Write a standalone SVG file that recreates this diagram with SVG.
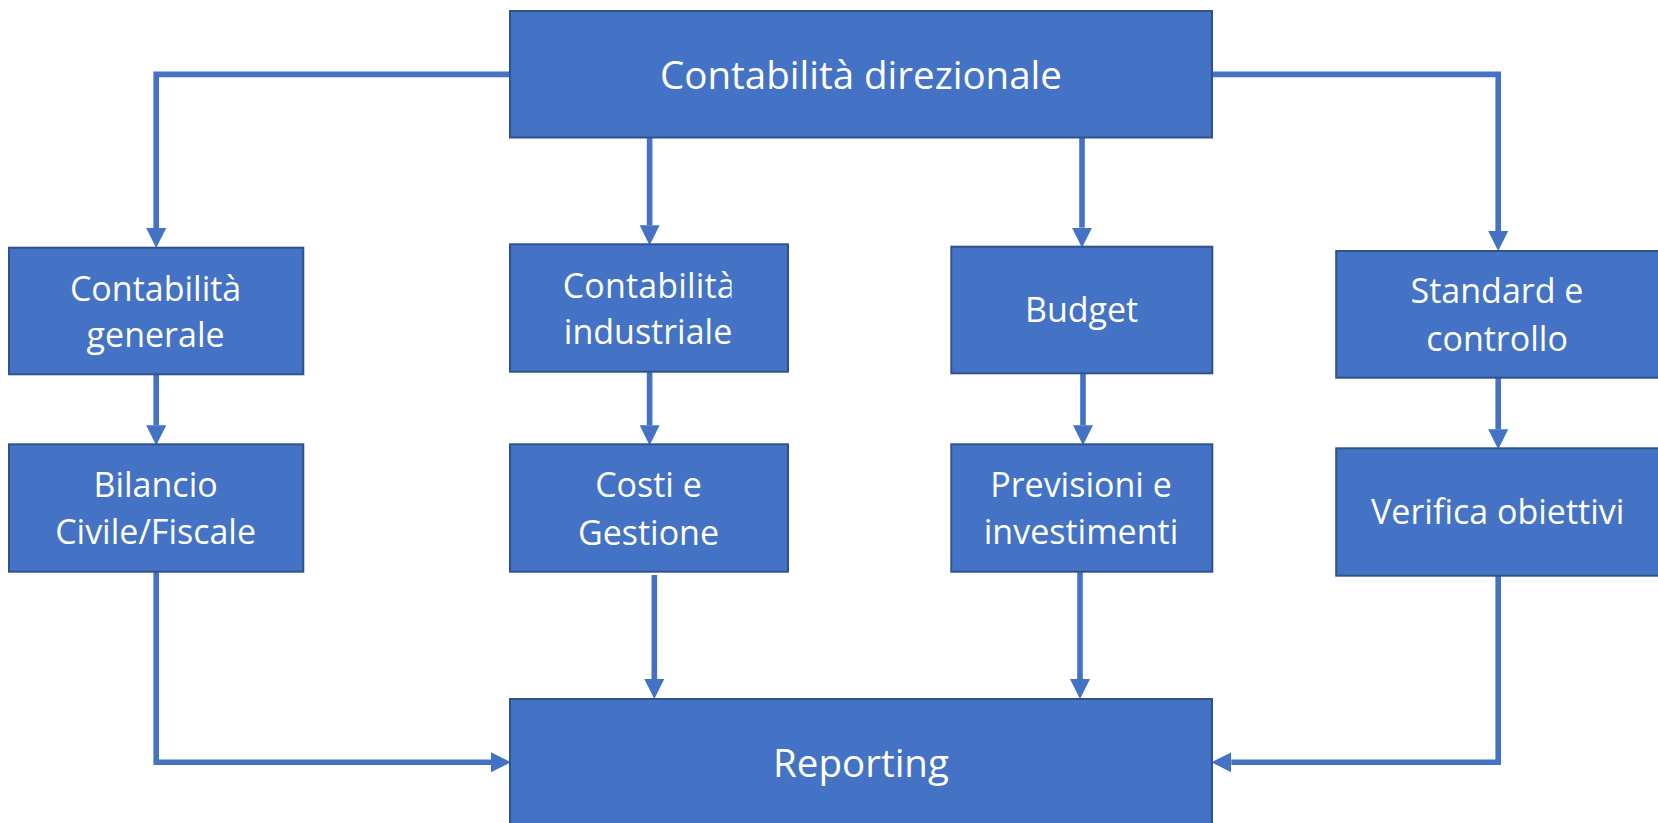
<svg xmlns="http://www.w3.org/2000/svg" width="1658" height="823" viewBox="0 0 1658 823">
<style>
.box{fill:#4472C4;stroke:#2F528F;stroke-width:2}
.t{fill:#FFFFFF;font-family:"Open Sans","Noto Sans",sans-serif;font-size:34px;text-anchor:middle}
.ts{fill:#FFFFFF;font-family:"Open Sans","Noto Sans",sans-serif;font-size:34px;text-anchor:start}
.tb{fill:#FFFFFF;font-family:"Open Sans","Noto Sans",sans-serif;font-size:38.5px;text-anchor:middle}
.c{fill:none;stroke:#4472C4;stroke-width:5.6;stroke-linejoin:miter}
</style>
<defs>
<marker id="ah" markerUnits="userSpaceOnUse" markerWidth="20" markerHeight="20" refX="0" refY="9.5" orient="auto" viewBox="0 0 19 19">
<path d="M0,0 L19,9.5 L0,19 Z" fill="#4472C4"/>
</marker>
<clipPath id="clipInd"><rect x="509" y="244" width="222.5" height="128"/></clipPath>
</defs>
<rect width="1658" height="823" fill="#FFFFFF"/>
<g id="connectors">
<path class="c" d="M510,74.4 H156.2 V228" marker-end="url(#ah)"/>
<path class="c" d="M649.6,137.3 V225.3" marker-end="url(#ah)"/>
<path class="c" d="M1082,137.3 V227.7" marker-end="url(#ah)"/>
<path class="c" d="M1212.3,74.4 H1498.2 V231" marker-end="url(#ah)"/>
<path class="c" d="M156.2,374.3 V425.3" marker-end="url(#ah)"/>
<path class="c" d="M649.6,371.7 V425.3" marker-end="url(#ah)"/>
<path class="c" d="M1083,373.3 V425.3" marker-end="url(#ah)"/>
<path class="c" d="M1498.2,377.7 V429.3" marker-end="url(#ah)"/>
<path class="c" d="M156.2,571.7 V762.3 H491" marker-end="url(#ah)"/>
<path class="c" d="M654.3,575 V679" marker-end="url(#ah)"/>
<path class="c" d="M1080,571.7 V679" marker-end="url(#ah)"/>
<path class="c" d="M1498.2,575.7 V762.3 H1231.3" marker-end="url(#ah)"/>
</g>
<g id="n-direzionale">
<rect class="box" x="510" y="11" width="702" height="126.5"/>
<text class="tb" x="861" y="89.3">Contabilità direzionale</text>
</g>
<g id="n-generale">
<rect class="box" x="9" y="247.7" width="294.3" height="126.6"/>
<text class="t" x="155.6" y="301">Contabilità</text>
<text class="t" x="155.6" y="347">generale</text>
</g>
<g id="n-industriale">
<rect class="box" x="510" y="244.3" width="278" height="127.4"/>
<g clip-path="url(#clipInd)">
<text class="ts" x="562.7" y="297.7" textLength="173" lengthAdjust="spacing">Contabilità</text>
<text class="ts" x="563.8" y="344.3">industriale</text>
</g>
</g>
<g id="n-budget">
<rect class="box" x="951.3" y="246.7" width="261" height="126.6"/>
<text class="t" x="1081.6" y="322.3">Budget</text>
</g>
<g id="n-standard">
<rect class="box" x="1336.2" y="251" width="330" height="126.7"/>
<text class="t" x="1497" y="303.3">Standard e</text>
<text class="t" x="1497" y="351">controllo</text>
</g>
<g id="n-bilancio">
<rect class="box" x="9" y="444.3" width="294.3" height="127.4"/>
<text class="t" x="155.6" y="496.7">Bilancio</text>
<text class="t" x="155.6" y="544.3">Civile/Fiscale</text>
</g>
<g id="n-costi">
<rect class="box" x="510" y="444.3" width="278" height="127.4"/>
<text class="t" x="648.5" y="497.3">Costi e</text>
<text class="t" x="648.5" y="545">Gestione</text>
</g>
<g id="n-previsioni">
<rect class="box" x="951.3" y="444.3" width="261" height="127.4"/>
<text class="t" x="1081" y="496.7">Previsioni e</text>
<text class="t" x="1081" y="544.3">investimenti</text>
</g>
<g id="n-verifica">
<rect class="box" x="1336.2" y="448.3" width="330" height="127.4"/>
<text class="t" x="1497.7" y="524">Verifica obiettivi</text>
</g>
<g id="n-reporting">
<rect class="box" x="510" y="699" width="702" height="140"/>
<text class="tb" x="861" y="776.7">Reporting</text>
</g>
</svg>
